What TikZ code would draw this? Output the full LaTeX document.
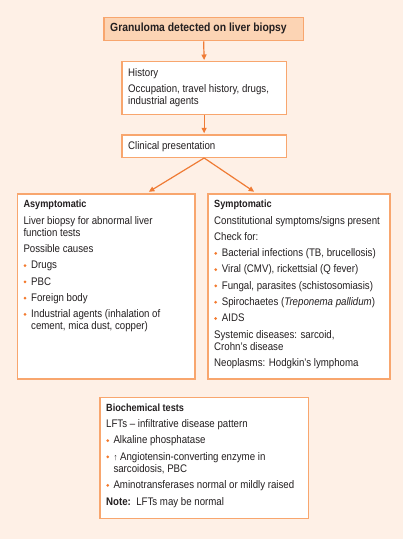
\documentclass[tikz,border=0pt]{standalone}
\usepackage{fontspec}
\setmainfont{Liberation Sans}[FakeStretch=0.88]
\usetikzlibrary{arrows.meta}
\definecolor{bg}{HTML}{FEF0E6}
\definecolor{topfill}{HTML}{FCD4B4}
\definecolor{bord}{HTML}{F8A66E}
\definecolor{arrc}{HTML}{EF7B35}
\definecolor{bulc}{HTML}{F37A2E}
\definecolor{ink}{HTML}{231F20}
\tikzset{
  box/.style={draw=bord, line width=1.3pt, fill=white, inner sep=0pt, anchor=north west},
  txt/.style={anchor=base west, inner sep=0pt, font=\fontsize{11}{12}\selectfont, text=ink},
  hd/.style={anchor=base west, inner sep=0pt, font=\fontsize{10.4}{12}\selectfont\bfseries, text=ink},
  bdot/.style={circle, fill=bulc, inner sep=0pt, minimum size=3pt},
  arr/.style={draw=arrc, line width=1.2pt, -{Triangle[length=5.5pt,width=5pt]}, shorten >=1pt}
}
\begin{document}
\begin{tikzpicture}[x=1pt,y=-1pt]
\useasboundingbox (0,0) rectangle (403,539);
\fill[bg] (0,0) rectangle (403,539);
% boxes
\node[box, fill=topfill, minimum width=199.4pt, minimum height=23.3pt] (top) at (103.3,16.7) {};
\node[box, minimum width=164.4pt, minimum height=53pt] (hist) at (121.3,61) {};
\node[box, minimum width=164.4pt, minimum height=22.4pt] (clin) at (121.3,134.3) {};
\node[box, minimum width=177.6pt, minimum height=185pt] (asym) at (16.7,193.3) {};
\node[box, minimum width=182pt, minimum height=185pt] (symp) at (207.3,193.3) {};
\node[box, minimum width=208.4pt, minimum height=121pt] (bioc) at (99.3,397) {};
% connectors
\coordinate (aL) at (148,192.3);
\coordinate (aR) at (255,192.3);
\draw[arr] (top.south) -- (hist.north);
\draw[arr] (hist.south) -- (clin.north);
\draw[arr] (clin.south) -- (aL);
\draw[arr] (clin.south) -- (aR);
% top text
\node[hd, font=\fontsize{11.8}{12}\selectfont\bfseries] (t1) at (110,31.3) {Granuloma detected on liver biopsy};
% history
\node[txt] (h1) at (128,76.7) {History};
\node[txt] (h2) at (128,92.3) {Occupation, travel history, drugs,};
\node[txt] (h3) at (128,104.2) {industrial agents};
% clinical
\node[txt] (c1) at (128,149.7) {Clinical presentation};
% asymptomatic
\node[hd] (a1) at (23.3,207.7) {Asymptomatic};
\node[txt] (a2) at (23.3,224) {Liver biopsy for abnormal liver};
\node[txt] (a3) at (23.3,236.2) {function tests};
\node[txt] (a4) at (23.3,252.5) {Possible causes};
\node[bdot] (ab1) at (25,265.5) {};
\node[txt] (a5) at (31,268.8) {Drugs};
\node[bdot] (ab2) at (25,281.8) {};
\node[txt] (a6) at (31,285.1) {PBC};
\node[bdot] (ab3) at (25,298.1) {};
\node[txt] (a7) at (31,301.4) {Foreign body};
\node[bdot] (ab4) at (25,314.4) {};
\node[txt] (a8) at (31,317.7) {Industrial agents (inhalation of};
\node[txt] (a9) at (31,329.9) {cement, mica dust, copper)};
% symptomatic
\node[hd] (s1) at (214,207.7) {Symptomatic};
\node[txt] (s2) at (214,224) {Constitutional symptoms/signs present};
\node[txt] (s3) at (214,240.3) {Check for:};
\node[bdot] (sb1) at (215.7,253.3) {};
\node[txt] (s4) at (221.7,256.6) {Bacterial infections (TB, brucellosis)};
\node[bdot] (sb2) at (215.7,269.6) {};
\node[txt] (s5) at (221.7,272.9) {Viral (CMV), rickettsial (Q fever)};
\node[bdot] (sb3) at (215.7,285.9) {};
\node[txt] (s6) at (221.7,289.2) {Fungal, parasites (schistosomiasis)};
\node[bdot] (sb4) at (215.7,302.2) {};
\node[txt] (s7) at (221.7,305.5) {Spirochaetes (\textit{Treponema pallidum})};
\node[bdot] (sb5) at (215.7,318.5) {};
\node[txt] (s8) at (221.7,321.8) {AIDS};
\node[txt] (s9) at (214,338.1) {Systemic diseases: sarcoid,};
\node[txt] (s10) at (214,350.3) {Crohn’s disease};
\node[txt] (s11) at (214,366.2) {Neoplasms: Hodgkin’s lymphoma};
% biochemical
\node[hd] (b1) at (106,411.3) {Biochemical tests};
\node[txt] (b2) at (106,427.6) {LFTs – infiltrative disease pattern};
\node[bdot] (bb1) at (107.7,440.6) {};
\node[txt] (b3) at (113.3,443.9) {Alkaline phosphatase};
\node[bdot] (bb2) at (107.7,456.9) {};
\node[txt] (b4) at (113.3,460.2) {{\fontsize{9}{12}\selectfont ↑} Angiotensin-converting enzyme in};
\node[txt] (b5) at (113.3,472.4) {sarcoidosis, PBC};
\node[bdot] (bb3) at (107.7,485.4) {};
\node[txt] (b6) at (113.3,488.7) {Aminotransferases normal or mildly raised};
\node[txt] (b7) at (106,505) {\textbf{Note:}\ \ LFTs may be normal};
\end{tikzpicture}
\end{document}
